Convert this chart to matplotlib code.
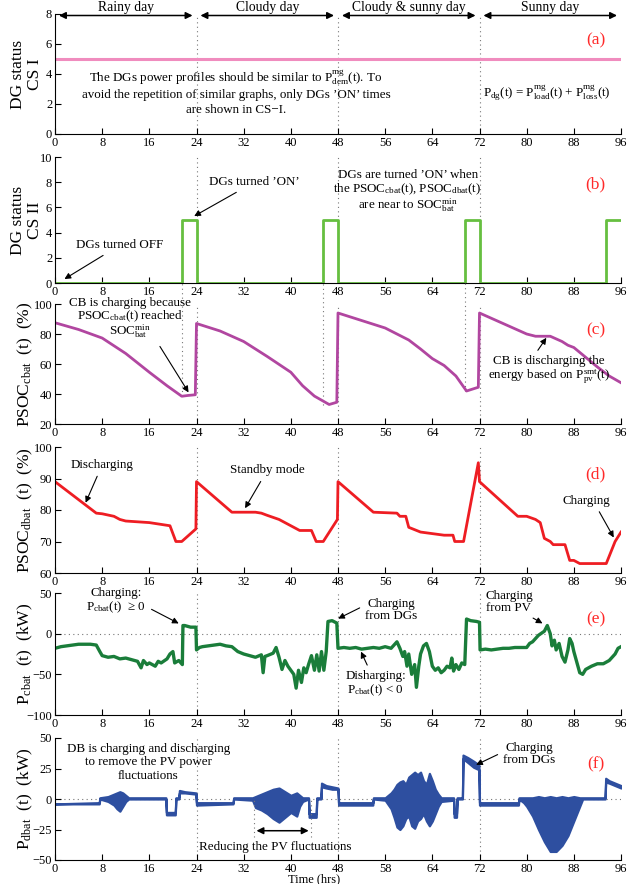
import matplotlib
matplotlib.use("Agg")
import matplotlib.pyplot as plt

plt.rcParams['font.family'] = ['Liberation Serif', 'DejaVu Serif']
plt.rcParams['mathtext.fontset'] = 'custom'
plt.rcParams['mathtext.rm'] = 'Liberation Serif'
plt.rcParams['mathtext.it'] = 'Liberation Serif:italic'
plt.rcParams['mathtext.default'] = 'regular'
plt.rcParams['axes.unicode_minus'] = True

# ---- data ----
day_labels = ["Rainy day", "Cloudy day", "Cloudy & sunny day", "Sunny day"]
hour_ticks = [0, 8, 16, 24, 32, 40, 48, 56, 64, 72, 80, 88, 96]
hour_ticklabels_f = ["0", "8", "16", "24", "32", "40", "48", "58", "64", "72", "80", "88", "96"]
day_edges = [24, 48, 72]
dg_on_times = [21.5, 45.5, 69.5]

cs1_hours = [0, 96]
cs1_status = [5, 5]

cs2_hours = [0, 21.5, 24, 45.5, 48, 69.5, 72, 93.5, 96]
cs2_status = [0, 5, 0, 5, 0, 5, 0, 5, 5]

c_hours = [0, 4, 8, 12, 16, 19, 21.5, 22.5, 23.8, 24.0, 28, 32, 36, 40, 42, 44, 46.5, 47.8,
           48.0, 52, 56, 59, 60, 62, 64, 66, 68, 69.8, 71.8, 72.0, 76, 80, 81.5, 84, 86, 87,
           88, 90, 92, 94, 96]
c_soc = [87.5, 83, 77.3, 67, 54.5, 45.5, 38.5, 39, 39.5, 87, 82, 75, 65, 54.5, 45.5, 38.6, 33, 34.5,
         94, 89, 84, 78, 76, 70, 63.6, 59, 52, 42, 44.5, 94, 87, 80, 78.5, 78.5, 75, 72.5,
         71, 64.5, 58, 52, 47.5]
c_min_marks = [39, 33, 42]

d_hours = [0, 7, 8, 10, 11, 12, 16, 19.5, 20.5, 21.5, 23.9, 24.0, 30, 34, 35, 36, 38, 40, 41.5,
           43.5, 44.3, 45.5, 47.9, 48.0, 54, 58, 58.5, 59.5, 60, 62, 64, 66, 67.5, 67.8, 69.3,
           71.8, 72.0, 78.5, 80, 81.5, 82.3, 83, 84, 84.5, 86.5, 87.3, 88, 89, 93.5, 95, 96]
d_soc = [89, 79, 78.8, 78, 77, 76.5, 76, 75, 70, 70, 74, 89, 79.3, 79.3, 79, 78.3, 77, 75, 73.5,
         73.5, 70, 70, 77, 89, 79.3, 79, 78, 78, 74.5, 73, 72.5, 72, 72, 70, 70,
         95, 89, 78, 78, 77, 76, 71, 70, 69, 69, 64, 64, 63, 63, 70, 73]

e_hours = [0, 1, 2, 3, 4, 5, 6, 7, 7.6, 8, 9, 10, 11, 12, 13, 14, 14.6, 15, 15.6, 16, 17, 17.5,
           18, 19, 19.5, 20, 20.3, 21, 21.6, 21.7, 22, 23, 23.9, 24.0, 24.5, 25, 26, 27, 28, 29,
           30, 31, 32, 33, 34, 35, 35.3, 35.6, 36, 37, 37.5, 38, 38.5, 39, 39.5, 40, 40.5, 40.9,
           41.3, 41.8, 42.2, 42.6, 43, 43.5, 44, 44.4, 44.8, 45.2, 45.6, 46, 46.3, 47, 47.8,
           48.0, 49, 50, 51, 52, 53, 54, 55, 56, 57, 57.5, 58, 58.5, 59, 59.3, 59.7, 60, 60.5,
           61, 61.3, 61.7, 62, 62.5, 63, 63.5, 64, 64.5, 65, 65.5, 66, 66.5, 67, 67.3, 67.6,
           68, 68.5, 69, 69.5, 69.8, 70.5, 71.5, 72, 72.1, 73, 74, 75, 76, 77, 78, 79, 80,
           80.5, 81, 81.5, 82, 83, 83.5, 84, 84.3, 84.7, 85, 85.5, 86, 86.5, 87, 87.3, 87.7,
           88, 88.5, 89, 89.5, 90, 91, 92, 93, 94, 95, 95.5, 96]
e_power = [-18, -16, -15, -14, -13, -13, -13, -14, -22, -27, -29, -28, -31, -30, -32, -34, -42, -33,
           -38, -36, -40, -34, -36, -31, -25, -22, -36, -33, -38, 10, 10, 8, 8, -20, -17, -16,
           -15, -14, -13, -15, -16, -22, -25, -27, -29, -26, -48, -28, -27, -24, -17, -29, -44,
           -33, -40, -45, -50, -67, -45, -60, -42, -48, -38, -27, -45, -26, -46, -22, -45, -22,
           15, 16, 13, -18, -17, -18, -17, -19, -18, -17, -18, -16, -18, -14, -10, -18, -28,
           -22, -40, -25, -50, -38, -66, -40, -25, -15, -12, -22, -40, -45, -42, -48, -45, -40,
           -42, -30, -46, -38, -44, -36, -38, 18, 16, 15, 14, -20, -19, -20, -19, -18, -18,
           -17, -17, -17, -12, -10, -6, -2, 3, 10, 0, -15, -8, -20, -12, -28, -35, -20, -6,
           -12, -22, -35, -48, -50, -44, -40, -37, -37, -33, -25, -18, -16]

f_hours = [0, 7.5, 7.6, 9, 10, 10.5, 11, 11.5, 12, 12.5, 18.8, 18.9, 20.4, 20.5, 21, 21.1, 22,
           23.9, 24.0, 30.2, 30.3, 33.5, 34, 35, 36, 37, 38, 39, 40, 41, 41.5, 42, 43, 43.1,
           44.3, 44.4, 45.1, 45.2, 46, 47, 48, 48.1, 53.9, 54.0, 56, 57, 57.5, 58, 58.5, 59,
           59.5, 60, 60.5, 61, 61.5, 62, 62.5, 63, 63.5, 64, 64.5, 65, 65.5, 67.6, 67.7, 68.1,
           68.2, 69.1, 69.2, 70, 71, 71.9, 72, 78.6, 78.7, 79.5, 80, 81, 82, 83, 84, 85, 86,
           87, 88, 89, 89.5, 93.3, 93.4, 94, 95, 96]
f_low = [-4, -4, 0, -2, -5, -8, -10, -6, -2, 0, 0, -13, -13, 0, 0, 5, 5,
         4, -5, -4, 0, -1, -7, -9, -12, -16, -19, -15, -11, -14, -6, -2, 0, -15,
         -15, 0, 0, 10, 9, 8, 8, -5, -5, 0, -1, -8, -15, -23, -25, -22,
         -16, -14, -22, -24, -18, -16, -12, -18, -22, -18, -12, -6, -2, -1, -15, -15,
         0, 0, 33, 30, 26, 24, -5, -5, 0, -3, -6, -14, -25, -35, -43, -43, -38,
         -30, -18, -6, 0, 0, 14, 13, 11, 9]
f_high = [-4, -3, 1, 2, 4, 5, 6, 5, 3, 1, 1, -11, -11, 1, 1, 7, 6,
          5, -3, -3, 1, 1, 2, 4, 6, 8, 9, 6, 3, 5, 3, 1, 1, -12,
          -12, 1, 1, 13, 11, 10, 9, -3, -3, 1, 1, 5, 8, 12, 14, 15,
          12, 18, 20, 22, 20, 22, 15, 12, 21, 15, 8, 4, 1, 1, -12, -12,
          1, 1, 36, 34, 31, 28, -3, -3, 1, 1, 1, 1, 2, 1, 2, 1, 2,
          1, 2, 1, 1, 1, 17, 15, 13, 11]

# ---- styling ----
pink = '#F08CBE'
light_green = '#66BF40'
purple = '#B146A0'
red = '#EE1D23'
dark_green = '#1A7D3A'
blue = '#2E4FA0'
tag_red = '#FF2A2A'
dot_grey = '#777777'
FS = 9.4


def panel_box(top, bottom):
    return [55 / 627, 1 - bottom / 884, 566 / 627, (bottom - top) / 884]


fig = plt.figure(figsize=(6.27, 8.84), dpi=100)
tops = [14, 157, 304, 447, 593, 738]
bottoms = [134, 283, 424, 573, 715, 860]
axes = [fig.add_axes(panel_box(t, b)) for t, b in zip(tops, bottoms)]

ylims = [(0, 8), (0, 10), (20, 100), (60, 100), (-100, 50), (-50, 50)]
yticks = [[0, 2, 4, 6, 8], [0, 2, 4, 6, 8, 10], [20, 40, 60, 80, 100], [60, 70, 80, 90, 100],
          [-100, -50, 0, 50], [-50, -25, 0, 25, 50]]
ylabels = ["DG status\nCS I", "DG status\nCS II", "PSOC$_{cbat}$  (t)  (%)",
           "PSOC$_{dbat}$  (t)  (%)", "P$_{cbat}$  (t)  (kW)", "P$_{dbat}$  (t)  (kW)"]
ylabel_x = [-0.022, -0.022, -0.036, -0.036, -0.036, -0.036]
tags = ["(a)", "(b)", "(c)", "(d)", "(e)", "(f)"]

for i, ax in enumerate(axes):
    ax.set_xlim(0, 96)
    ax.set_ylim(*ylims[i])
    ax.set_xticks(hour_ticks)
    ax.set_yticks(yticks[i])
    ax.spines['top'].set_visible(False)
    ax.spines['right'].set_visible(False)
    ax.tick_params(direction='in', length=4, width=0.8, labelsize=9, pad=2)
    ax.set_ylabel(ylabels[i], fontsize=12.5, linespacing=1.05)
    ax.yaxis.set_label_coords(ylabel_x[i], 0.5)
    for x in day_edges:
        ax.axvline(x, color=dot_grey, ls=(0, (1, 3)), lw=0.8, zorder=0)
    lo, hi = ylims[i]
    ax.text(91.7, lo + 0.78 * (hi - lo), tags[i], color=tag_red, fontsize=12.5,
            ha='center', va='center')

arrow_kw = dict(arrowstyle='-|>', color='black', lw=0.8, mutation_scale=9)

# (a)
ax = axes[0]
ax.plot(cs1_hours, cs1_status, color=pink, lw=2.2)
for k, name in enumerate(day_labels):
    ax.annotate('', xy=(24 * k + 0.2, 7.9), xytext=(24 * k + 23.8, 7.9),
                arrowprops=dict(arrowstyle='<|-|>', color='black', lw=1.1, mutation_scale=10),
                annotation_clip=False)
    ax.text(24 * k + 12, 8.42, name, ha='center', va='center', fontsize=9.8, clip_on=False)
ax.text(30.7, 2.8, "The DGs power profiles should be similar to $P^{mg}_{dem}$(t). To\n"
        "avoid the repetition of similar graphs, only DGs \u2019ON\u2019 times\n"
        "are shown in CS\u2212I.", ha='center', va='center', fontsize=FS, linespacing=1.3)
ax.text(83.5, 2.7, "$P_{dg}$(t) = $P^{mg}_{load}$(t) + $P^{mg}_{loss}$(t)",
        ha='center', va='center', fontsize=FS)

# (b)
ax = axes[1]
ax.plot(cs2_hours, cs2_status, color=light_green, lw=2.0, drawstyle='steps-post')
ax.annotate("DGs turned \u2019ON\u2019", xy=(23.2, 5.2), xytext=(33.8, 8.0),
            ha='center', va='center', fontsize=FS, arrowprops=arrow_kw)
ax.annotate("DGs turned OFF", xy=(1.2, 0.2), xytext=(11, 3.0),
            ha='center', va='center', fontsize=FS, arrowprops=arrow_kw)
ax.text(59.8, 7.2, "DGs are turned \u2019ON\u2019 when\nthe PSOC$_{cbat}$(t), PSOC$_{dbat}$(t)\n"
        "are near to SOC$^{min}_{bat}$", ha='center', va='center', fontsize=FS,
        linespacing=1.0)

# (c)
ax = axes[2]
ax.plot(c_hours, c_soc, color=purple, lw=2.0)
ax.vlines(dg_on_times, c_min_marks, 114, color=dot_grey, ls=(0, (1, 3)), lw=0.8, zorder=0,
          clip_on=False)
ax.annotate("CB is charging because\nPSOC$_{cbat}$(t) reached\nSOC$^{min}_{bat}$",
            xy=(22.9, 39.5), xytext=(12.7, 90), ha='center', va='center', fontsize=FS,
            linespacing=0.95, arrowprops=dict(arrow_kw, relpos=(0.72, 0.0)),
            annotation_clip=False)
ax.annotate("CB is discharging the\nenergy based on $P^{smt}_{pv}$(t)",
            xy=(83.6, 79), xytext=(83.8, 55.5), ha='center', va='center', fontsize=FS,
            linespacing=1.0, arrowprops=dict(arrow_kw, relpos=(0.38, 1.0)))

# (d)
ax = axes[3]
ax.plot(d_hours, d_soc, color=red, lw=2.0)
ax.annotate("Discharging", xy=(5, 81.5), xytext=(8, 94.3), ha='center', va='center',
            fontsize=FS, arrowprops=arrow_kw)
ax.annotate("Standby mode", xy=(32, 79.8), xytext=(36, 92.6), ha='center', va='center',
            fontsize=FS, arrowprops=arrow_kw)
ax.annotate("Charging", xy=(95, 70.5), xytext=(90.2, 83), ha='center', va='center',
            fontsize=FS, arrowprops=dict(arrow_kw, relpos=(0.7, 0.0)))

# (e)
ax = axes[4]
ax.axhline(0, color=dot_grey, ls=(0, (1, 3)), lw=0.8, zorder=0)
ax.plot(e_hours, e_power, color=dark_green, lw=2.4)
ax.annotate("Charging:\nP$_{cbat}$(t)  \u2265 0", xy=(21.4, 11), xytext=(10.4, 40),
            ha='center', va='center', fontsize=FS, linespacing=1.0,
            arrowprops=dict(arrow_kw, relpos=(1.0, 0.3)))
ax.annotate("Charging\nfrom DGs", xy=(47.6, 17), xytext=(57, 29), ha='center', va='center',
            fontsize=FS, linespacing=1.0, arrowprops=dict(arrow_kw, relpos=(0.0, 0.7)))
ax.annotate("Disharging:\nP$_{cbat}$(t) < 0", xy=(51.7, -19), xytext=(54.4, -62),
            ha='center', va='center', fontsize=FS, linespacing=1.0,
            arrowprops=dict(arrow_kw, relpos=(0.4, 1.0)))
ax.annotate("Charging\nfrom PV", xy=(83.1, 11), xytext=(77, 39), ha='center', va='center',
            fontsize=FS, linespacing=1.0, arrowprops=dict(arrow_kw, relpos=(0.85, 0.0)))

# (f)
ax = axes[5]
ax.axhline(0, color=dot_grey, ls=(0, (1, 3)), lw=0.8, zorder=0)
ax.fill_between(f_hours, f_low, f_high, color=blue, lw=1.6, edgecolor=blue)
ax.set_xticklabels(hour_ticklabels_f)
ax.vlines([33.7, 43.5], -31, 0, color=dot_grey, ls=(0, (1, 3)), lw=0.8)
ax.annotate('', xy=(33.7, -26), xytext=(43.5, -26),
            arrowprops=dict(arrowstyle='<|-|>', color='black', lw=1.1, mutation_scale=10))
ax.text(37.4, -39, "Reducing the PV fluctuations", ha='center', va='center', fontsize=FS)
ax.text(15.8, 30, "DB is charging and discharging\nto remove the PV power\nfluctuations",
        ha='center', va='center', fontsize=FS, linespacing=1.15)
ax.annotate("Charging\nfrom DGs", xy=(71, 27), xytext=(80.4, 36.5), ha='center', va='center',
            fontsize=FS, linespacing=1.0, arrowprops=dict(arrow_kw, relpos=(0.0, 0.6)))
ax.set_xlabel("Time (hrs)", fontsize=9, labelpad=1)
ax.xaxis.set_label_coords(0.457, -0.11)

fig.savefig("out.png", dpi=100)
